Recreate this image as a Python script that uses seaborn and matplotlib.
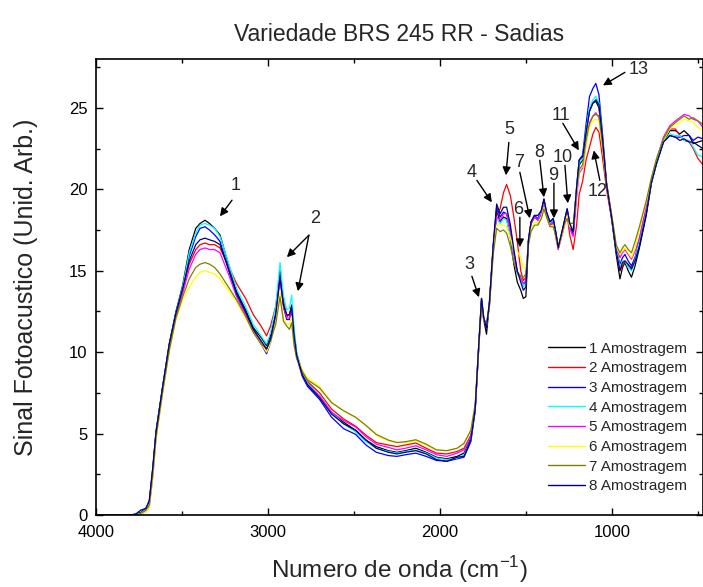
import numpy as np
import pandas as pd
import matplotlib
matplotlib.use("Agg")
import matplotlib.pyplot as plt
from matplotlib.ticker import MultipleLocator
from matplotlib.lines import Line2D
import seaborn as sns

# numero de onda (cm-1)
wn = [4000, 3900, 3800, 3770, 3740, 3710, 3690, 3670, 3651, 3612, 3574, 3535, 3496, 3458, 3420, 3395, 3366, 3340, 3310, 3279, 3230, 3182, 3130, 3085, 3040, 3008,
      2985, 2955, 2930, 2910, 2891, 2875, 2862, 2848, 2833, 2800, 2770, 2700, 2630, 2560, 2490, 2430, 2370, 2300, 2250, 2200, 2140, 2080, 2020, 1960, 1900, 1860, 1820,
      1795, 1775, 1758, 1745, 1729, 1712, 1690, 1670, 1650, 1630, 1612, 1590, 1570, 1550, 1530, 1515, 1500, 1485, 1470, 1450, 1430, 1410, 1395, 1380, 1360, 1341, 1325, 1312, 1290, 1275, 1260, 1245, 1225, 1205, 1190, 1170, 1150, 1130, 1110, 1093, 1075, 1055, 1031, 1002, 975,
      953, 938, 924, 905, 886, 865, 840, 800, 770, 740, 700, 663, 630, 605, 580, 550, 527, 500, 470]

amostra1 = [0.0, 0.0, 0.0, 0.05, 0.15, 0.4, 0.8, 2.8, 5.1, 7.9, 10.5, 12.5, 14.1, 16.3, 17.6, 17.9, 18.1, 17.9, 17.6, 17.2, 15.4, 13.7, 12.6, 11.5, 10.9, 10.4,
            11.0, 12.4, 15.0, 13.0, 12.2, 12.3, 12.9, 11.2, 9.9, 8.7, 8.1, 7.3, 6.3, 5.7, 5.2, 4.6, 4.2, 3.95, 3.85, 3.95, 4.1, 3.85, 3.55, 3.45, 3.6, 3.8, 4.7,
            6.5, 10.2, 13.3, 12.0, 11.1, 13.0, 16.4, 18.7, 18.0, 18.3, 18.2, 17.0, 15.4, 14.3, 13.8, 13.3, 13.4, 16.8, 17.9, 18.3, 18.1, 18.6, 19.2, 18.5, 17.9, 18.1, 17.2, 16.4, 17.3, 18.0, 18.7, 17.8, 17.2, 19.9, 21.5, 21.8, 23.5, 24.8, 25.3, 25.4, 25.0, 23.0, 20.3, 18.3, 16.0,
            14.5, 15.2, 15.5, 15.0, 14.6, 15.3, 16.4, 18.4, 20.4, 21.6, 22.9, 23.6, 23.6, 23.4, 23.6, 23.3, 22.8, 22.9, 23.0]
amostra2 = [0.0, 0.0, 0.0, 0.0, 0.1, 0.3, 0.7, 2.6, 4.9, 7.7, 10.3, 12.3, 13.8, 15.4, 16.3, 16.6, 16.7, 16.6, 16.6, 16.4, 15.3, 14.2, 13.3, 12.3, 11.6, 11.0,
            11.6, 12.8, 14.8, 13.2, 12.2, 12.3, 12.7, 11.1, 9.9, 8.8, 8.2, 7.5, 6.5, 5.9, 5.45, 4.9, 4.45, 4.3, 4.2, 4.3, 4.42, 4.1, 3.8, 3.75, 3.9, 4.1, 4.9,
            6.4, 10.1, 13.0, 12.0, 11.6, 12.9, 16.4, 18.5, 18.8, 19.8, 20.3, 19.6, 18.3, 16.8, 15.0, 14.4, 14.6, 16.8, 17.9, 18.3, 18.1, 18.5, 19.0, 18.4, 17.8, 17.9, 17.0, 16.3, 17.2, 17.8, 18.4, 17.2, 16.3, 17.8, 19.7, 20.5, 21.8, 22.6, 23.4, 23.8, 23.5, 22.0, 20.0, 18.2, 16.2,
            15.0, 15.3, 15.6, 15.3, 15.2, 15.8, 16.9, 18.9, 20.5, 21.7, 23.0, 23.7, 23.7, 23.3, 23.0, 22.9, 22.5, 21.9, 21.5]
amostra3 = [0.0, 0.0, 0.0, 0.05, 0.15, 0.4, 0.8, 2.8, 5.1, 7.9, 10.4, 12.4, 14.0, 15.9, 17.1, 17.6, 17.7, 17.5, 17.2, 16.8, 15.1, 13.5, 12.4, 11.3, 10.5, 9.9,
            10.6, 12.1, 14.7, 12.8, 12.0, 12.0, 12.6, 10.9, 9.7, 8.5, 7.9, 7.1, 6.0, 5.3, 4.95, 4.3, 3.85, 3.65, 3.6, 3.7, 3.8, 3.6, 3.35, 3.3, 3.45, 3.55, 4.5,
            6.4, 10.2, 13.2, 12.1, 11.5, 13.0, 16.5, 18.9, 18.3, 18.6, 18.5, 17.5, 16.1, 14.9, 14.5, 14.2, 14.3, 16.9, 18.0, 18.4, 18.2, 18.7, 19.4, 18.6, 18.0, 18.2, 17.3, 16.4, 17.4, 18.1, 18.8, 17.9, 17.3, 20.2, 21.8, 22.1, 24.0, 25.7, 26.2, 26.5, 25.8, 23.5, 20.4, 18.3, 16.3,
            15.4, 15.8, 16.0, 15.6, 15.3, 15.8, 16.7, 18.6, 20.4, 21.6, 22.9, 23.3, 23.2, 23.2, 23.3, 23.3, 23.0, 23.2, 23.1]
amostra4 = [0.0, 0.0, 0.0, 0.05, 0.1, 0.35, 0.7, 2.7, 5.0, 7.8, 10.4, 12.4, 14.0, 16.1, 17.3, 17.8, 17.9, 17.8, 17.6, 17.1, 15.5, 13.9, 12.8, 11.7, 11.0, 10.5,
            11.2, 12.8, 15.5, 13.5, 12.6, 12.7, 13.5, 11.5, 10.0, 8.7, 8.1, 7.3, 6.3, 5.6, 5.1, 4.5, 4.1, 3.9, 3.8, 3.9, 4.0, 3.8, 3.5, 3.4, 3.5, 3.7, 4.6,
            6.5, 10.2, 13.1, 12.1, 11.6, 13.0, 16.4, 18.2, 17.9, 18.2, 18.1, 17.1, 15.8, 14.8, 14.5, 14.0, 14.2, 16.8, 17.9, 18.3, 18.1, 18.6, 19.1, 18.5, 17.9, 18.1, 17.2, 16.4, 17.3, 18.0, 18.7, 17.9, 17.5, 20.0, 21.6, 21.9, 23.6, 25.0, 25.5, 25.7, 25.3, 23.2, 20.3, 18.3, 16.3,
            15.2, 15.6, 15.6, 15.2, 15.0, 15.7, 16.8, 18.7, 20.4, 21.6, 22.9, 23.4, 23.3, 23.3, 23.0, 23.0, 22.6, 22.1, 22.0]
amostra5 = [0.0, 0.0, 0.0, 0.0, 0.05, 0.2, 0.5, 2.3, 4.7, 7.6, 10.2, 12.2, 13.6, 15.1, 16.0, 16.3, 16.4, 16.3, 16.3, 16.1, 14.8, 13.4, 12.3, 11.3, 10.6, 10.1,
            10.8, 12.2, 14.5, 12.8, 12.1, 12.1, 12.6, 10.9, 9.8, 8.6, 8.0, 7.3, 6.3, 5.8, 5.4, 4.8, 4.35, 4.15, 4.0, 4.1, 4.25, 4.0, 3.7, 3.6, 3.8, 4.0, 4.9,
            6.5, 10.1, 13.0, 12.0, 11.6, 12.9, 16.4, 18.3, 18.1, 18.5, 18.5, 17.4, 16.0, 14.9, 14.6, 14.2, 14.4, 16.8, 17.9, 18.3, 18.1, 18.5, 19.0, 18.4, 17.8, 18.0, 17.1, 16.4, 17.2, 17.9, 18.6, 17.6, 17.1, 19.5, 21.0, 21.3, 22.8, 24.0, 24.5, 24.7, 24.4, 22.7, 20.3, 18.4, 16.5,
            15.8, 16.1, 16.3, 16.0, 15.7, 16.2, 17.0, 19.0, 20.6, 21.8, 23.2, 23.9, 24.2, 24.4, 24.6, 24.5, 24.3, 24.2, 23.8]
amostra6 = [0.0, 0.0, 0.0, 0.0, 0.05, 0.2, 0.5, 2.3, 4.6, 7.5, 10.0, 12.0, 13.2, 14.0, 14.6, 14.9, 15.0, 14.9, 14.8, 14.5, 13.8, 13.1, 12.1, 11.2, 10.5, 10.0,
            10.6, 11.9, 13.7, 12.1, 11.7, 11.7, 12.2, 10.6, 9.7, 8.9, 8.4, 7.9, 6.9, 6.4, 6.0, 5.5, 4.9, 4.55, 4.45, 4.45, 4.55, 4.3, 4.0, 3.95, 4.1, 4.4, 5.2,
            6.7, 10.2, 12.9, 12.0, 11.7, 12.9, 16.2, 17.8, 17.8, 17.8, 17.7, 17.0, 16.3, 16.2, 15.8, 15.2, 15.1, 16.7, 17.6, 18.0, 17.9, 18.3, 18.9, 18.3, 17.7, 17.8, 17.1, 16.4, 17.2, 17.8, 18.4, 17.7, 17.6, 19.8, 21.1, 21.4, 22.7, 23.8, 24.2, 24.3, 24.2, 22.6, 20.3, 18.5, 16.5,
            16.0, 16.2, 16.4, 16.1, 15.8, 16.4, 17.5, 19.2, 20.6, 21.8, 23.0, 23.7, 24.0, 24.1, 24.3, 24.2, 24.1, 23.8, 23.6]
amostra7 = [0.0, 0.0, 0.0, 0.0, 0.1, 0.3, 0.6, 2.5, 4.8, 7.6, 10.1, 12.1, 13.4, 14.5, 15.2, 15.4, 15.5, 15.4, 15.2, 14.8, 14.0, 13.2, 12.2, 11.2, 10.5, 10.2,
            10.7, 11.7, 13.4, 11.9, 11.6, 11.4, 11.8, 10.4, 9.6, 8.8, 8.3, 7.8, 6.9, 6.4, 6.0, 5.5, 4.95, 4.6, 4.45, 4.5, 4.62, 4.35, 4.0, 3.95, 4.1, 4.4, 5.2,
            6.8, 10.3, 12.9, 12.0, 11.8, 12.8, 16.0, 17.6, 17.4, 17.5, 17.3, 16.5, 15.5, 14.9, 14.7, 14.6, 14.8, 16.6, 17.4, 17.8, 17.8, 18.2, 18.8, 18.3, 17.7, 17.7, 17.1, 16.5, 17.3, 17.9, 18.2, 17.9, 17.9, 20.0, 21.2, 21.5, 23.0, 24.1, 24.5, 24.6, 24.5, 22.8, 20.4, 18.5, 16.6,
            16.1, 16.4, 16.6, 16.3, 16.1, 16.8, 17.7, 19.3, 20.7, 21.9, 23.1, 23.8, 24.1, 24.3, 24.5, 24.3, 24.4, 24.2, 24.0]
amostra8 = [0.0, 0.0, 0.0, 0.05, 0.3, 0.4, 0.9, 2.9, 5.1, 7.9, 10.5, 12.4, 13.9, 15.6, 16.6, 16.9, 17.0, 16.9, 16.8, 16.6, 15.1, 13.6, 12.5, 11.4, 10.7, 10.2,
            10.8, 12.3, 14.6, 12.9, 12.3, 12.3, 12.8, 11.0, 9.8, 8.6, 8.0, 7.2, 6.2, 5.6, 5.2, 4.6, 4.1, 3.85, 3.75, 3.85, 3.95, 3.75, 3.4, 3.3, 3.55, 3.6, 4.6,
            6.5, 10.3, 13.3, 12.1, 11.5, 13.1, 16.6, 19.1, 18.5, 18.9, 18.9, 17.8, 16.3, 15.0, 14.3, 13.8, 14.0, 16.9, 18.0, 18.4, 18.4, 18.7, 19.4, 18.6, 18.0, 18.2, 17.3, 16.4, 17.4, 18.1, 18.8, 17.9, 17.4, 20.1, 21.8, 22.0, 23.5, 24.8, 25.3, 25.5, 25.2, 23.2, 20.3, 18.3, 16.2,
            15.0, 15.5, 15.6, 15.4, 15.1, 15.6, 16.5, 18.5, 20.4, 21.6, 22.9, 23.3, 23.2, 23.0, 23.1, 22.9, 22.9, 22.7, 22.5]

rotulos = ["1 Amostragem", "2 Amostragem", "3 Amostragem", "4 Amostragem",
           "5 Amostragem", "6 Amostragem", "7 Amostragem", "8 Amostragem"]
cores = ["#000000", "#FF0000", "#0000FF", "#00FFFF", "#FF00FF", "#FFFF00", "#808000", "#000080"]

# picos marcados: numero, posicao do texto, inicio e ponta da seta (cm-1, sinal)
picos = [
    ("1", (3186, 20.25), [((3209, 19.33), (3279, 18.34))]),
    ("2", (2727, 18.22), [((2762, 17.18), (2890, 15.83)), ((2762, 17.18), (2826, 13.74))]),
    ("3", (1831, 15.40), [((1814, 14.66), (1773, 13.37))]),
    ("4", (1814, 21.04), [((1785, 20.55), (1698, 19.20))]),
    ("5", (1599, 23.68), [((1599, 22.88), (1616, 20.86))]),
    ("6", (1547, 18.77), [((1535, 18.28), (1535, 16.44))]),
    ("7", (1541, 21.66), [((1535, 21.04), (1477, 18.22))]),
    ("8", (1424, 22.27), [((1419, 21.78), (1395, 19.51))]),
    ("9", (1343, 20.86), [((1337, 20.37), (1337, 18.22))]),
    ("10", (1285, 21.96), [((1273, 21.47), (1256, 19.14))]),
    ("11", (1297, 24.54), [((1285, 24.05), (1192, 22.39))]),
    ("12", (1081, 19.88), [((1070, 20.55), (1105, 22.39))]),
    ("13", (843, 27.36), [((924, 27.18), (1052, 26.38))]),
]

series = [amostra1, amostra2, amostra3, amostra4, amostra5, amostra6, amostra7, amostra8]
frames = []
for nome, valores in zip(rotulos, series):
    frames.append(pd.DataFrame({"wn": wn, "sinal": valores, "amostra": nome}))
df = pd.concat(frames, ignore_index=True)

sns.set_theme(style="ticks")
plt.rcParams["font.family"] = ["Liberation Sans", "DejaVu Sans"]

fig = plt.figure(figsize=(7.03, 5.87), dpi=100)
ax = fig.add_axes([96 / 703, 72 / 587, 607 / 703, 456 / 587])

sns.lineplot(data=df, x="wn", y="sinal", hue="amostra", hue_order=rotulos,
             palette=dict(zip(rotulos, cores)), estimator=None, sort=False,
             linewidth=0.9, ax=ax, legend=False)

ax.set_xlim(4000, 470)
ax.set_ylim(0, 28)
ax.xaxis.set_major_locator(MultipleLocator(1000))
ax.xaxis.set_minor_locator(MultipleLocator(500))
ax.yaxis.set_major_locator(MultipleLocator(5))
ax.yaxis.set_minor_locator(MultipleLocator(2.5))
ax.tick_params(which="both", direction="in", top=True, right=True, width=1.0, colors="black")
ax.tick_params(which="major", length=5, labelsize=12)
ax.tick_params(which="minor", length=3)
ax.tick_params(axis="x", which="major", pad=7)
ax.tick_params(axis="y", which="major", pad=6)
for s in ax.spines.values():
    s.set_linewidth(1.2)
    s.set_color("black")

ax.set_title("Variedade BRS 245 RR - Sadias", fontsize=16.5, pad=13)
ax.set_xlabel(r"Numero de onda (cm$^{\mathregular{-1}}$)", fontsize=17.5, labelpad=10)
ax.set_ylabel("Sinal Fotoacustico (Unid. Arb.)", fontsize=18, labelpad=22)

for numero, pos_txt, setas in picos:
    ax.text(pos_txt[0], pos_txt[1], numero, ha="center", va="center", fontsize=13)
    for inicio, ponta in setas:
        ax.annotate("", xy=ponta, xytext=inicio,
                    arrowprops=dict(arrowstyle="-|>", color="black", lw=1.0,
                                    mutation_scale=12, shrinkA=0, shrinkB=0))

handles = [Line2D([], [], color=c, lw=1.0) for c in cores]
ax.legend(handles, rotulos, loc="upper left", bbox_to_anchor=(0.745, 0.38),
          frameon=False, fontsize=11, handlelength=2.4, handletextpad=0.3,
          labelspacing=0.37, borderpad=0, borderaxespad=0)

fig.savefig("out.png", dpi=100)
